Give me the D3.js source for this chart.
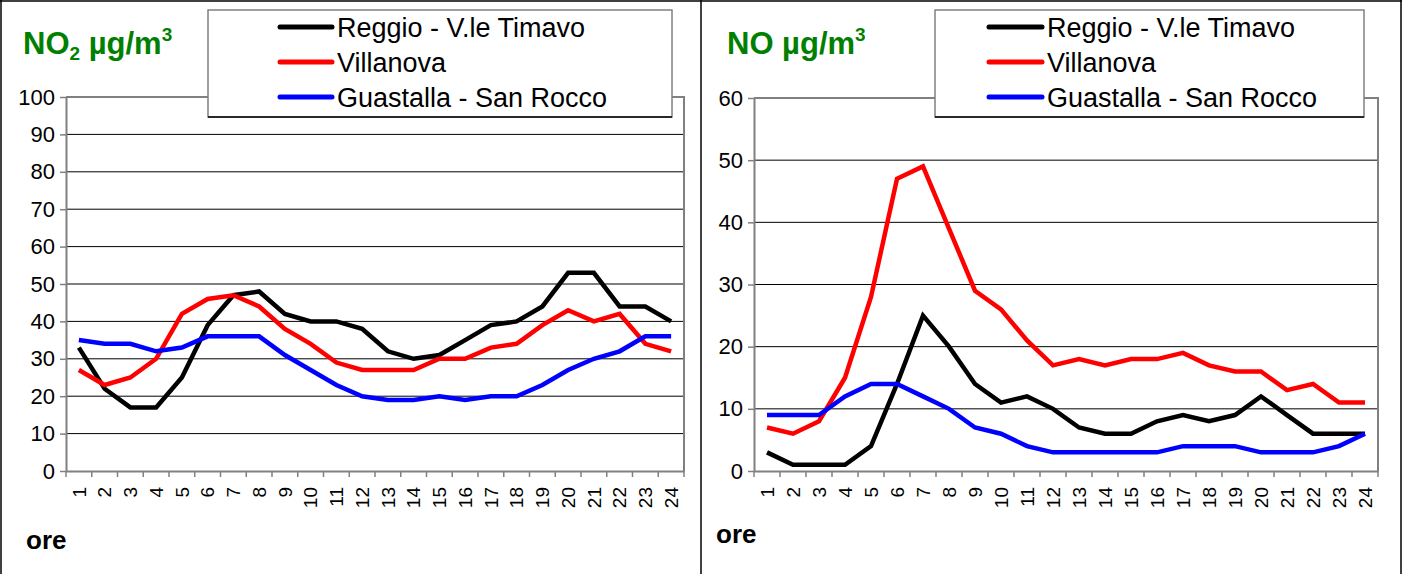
<!DOCTYPE html>
<html><head><meta charset="utf-8">
<script src="https://cdn.jsdelivr.net/npm/d3@7/dist/d3.min.js"></script>
<style>body{margin:0;background:#fff}svg{display:block;font-family:"Liberation Sans",Arial,sans-serif}</style>
</head><body><svg id="c" width="1413" height="574"></svg>
<script>
const hours = ["1","2","3","4","5","6","7","8","9","10","11","12","13","14","15","16","17","18","19","20","21","22","23","24"];
const seriesNames = ["Reggio - V.le Timavo","Villanova","Guastalla - San Rocco"];
const seriesColors = ["#000000","#ff0000","#0000ff"];
// NO2 (µg/m3)
const no2Reggio    = [33,22,17,17,25,39,47,48,42,40,40,38,32,30,31,35,39,40,44,53,53,44,44,40];
const no2Villanova = [27,23,25,30,42,46,47,44,38,34,29,27,27,27,30,30,33,34,39,43,40,42,34,32];
const no2Guastalla = [35,34,34,32,33,36,36,36,31,27,23,20,19,19,20,19,20,20,23,27,30,32,36,36];
const no2Ticks = [0,10,20,30,40,50,60,70,80,90,100];
// NO (µg/m3)
const noReggio    = [3,1,1,1,4,14,25,20,14,11,12,10,7,6,6,8,9,8,9,12,9,6,6,6];
const noVillanova = [7,6,8,15,28,47,49,39,29,26,21,17,18,17,18,18,19,17,16,16,13,14,11,11];
const noGuastalla = [9,9,9,12,14,14,12,10,7,6,4,3,3,3,3,3,4,4,4,3,3,3,4,6];
const noTicks = [0,10,20,30,40,50,60];

const svg = d3.select("#c");
const GRAY = "#808080";

// outer frames
svg.append("line").attr("x1",1).attr("x2",1).attr("y1",0).attr("y2",574).attr("stroke","#000").attr("stroke-width",1.5);
svg.append("line").attr("x1",701).attr("x2",701).attr("y1",0).attr("y2",574).attr("stroke","#000").attr("stroke-width",1.5);
svg.append("line").attr("x1",1401).attr("x2",1401).attr("y1",0).attr("y2",574).attr("stroke","#000").attr("stroke-width",1.5);
svg.append("line").attr("x1",0).attr("x2",1402).attr("y1",1).attr("y2",1).attr("stroke","#000").attr("stroke-width",1.5);

function panel(cfg){
  const g = svg.append("g");
  const x = d3.scaleBand().domain(hours).range([cfg.x0,cfg.x1]);
  const y = d3.scaleLinear().domain([0,cfg.ymax]).range([cfg.y1,cfg.y0]);
  // gridlines
  g.append("g").selectAll("line").data(cfg.ticks.filter(t=>t>0 && t<cfg.ymax)).join("line")
    .attr("x1",cfg.x0).attr("x2",cfg.x1).attr("y1",d=>y(d)).attr("y2",d=>y(d))
    .attr("stroke","#000").attr("stroke-width",1);
  // plot border (top/right)
  g.append("path").attr("d",`M${cfg.x0},${cfg.y0}H${cfg.x1}V${cfg.y1}`).attr("fill","none").attr("stroke",GRAY).attr("stroke-width",2);
  // y axis
  const ya = g.append("g").attr("transform",`translate(${cfg.x0},0)`)
    .call(d3.axisLeft(y).tickValues(cfg.ticks).tickSize(6).tickPadding(5).tickSizeOuter(0));
  ya.select(".domain").attr("stroke",GRAY).attr("stroke-width",2);
  ya.selectAll(".tick line").attr("stroke",GRAY).attr("stroke-width",1.5);
  ya.selectAll(".tick text").attr("font-size",22).attr("fill","#000").attr("font-family","Liberation Sans, Arial, sans-serif");
  // x axis
  const xa = g.append("g").attr("transform",`translate(0,${cfg.y1})`)
    .call(d3.axisBottom(x).tickSize(0).tickSizeOuter(0));
  xa.select(".domain").attr("stroke",GRAY).attr("stroke-width",2);
  xa.selectAll(".tick text").attr("font-size",19).attr("fill","#000")
    .attr("font-family","Liberation Sans, Arial, sans-serif")
    .attr("text-anchor","end").attr("dy","0.35em").attr("dx",0)
    .attr("transform","translate(0,16) rotate(-90)").attr("y",0).attr("x",0);
  // boundary ticks
  const bounds = hours.map(h=>x(h)).concat([x(hours[hours.length-1])+x.bandwidth()]);
  g.append("g").selectAll("line").data(bounds).join("line")
    .attr("x1",d=>d).attr("x2",d=>d).attr("y1",cfg.y1).attr("y2",cfg.y1+6)
    .attr("stroke",GRAY).attr("stroke-width",1.5);
  // series lines
  const line = d3.line().x((d,i)=>x(hours[i])+x.bandwidth()/2).y(d=>y(d));
  cfg.series.forEach((s,i)=>{
    g.append("path").datum(s).attr("d",line).attr("fill","none")
      .attr("stroke",seriesColors[i]).attr("stroke-width",4.5).attr("stroke-linejoin","miter");
  });
  // title
  const t = g.append("text").attr("x",cfg.tx).attr("y",cfg.ty).attr("fill","#008000")
    .attr("font-weight","bold").attr("font-size",31);
  t.append("tspan").text("NO");
  if(cfg.sub){ t.append("tspan").attr("font-size",19).attr("dy",6).text(cfg.sub); t.append("tspan").attr("dy",-6).text(" µg/m"); }
  else t.append("tspan").text(" µg/m");
  t.append("tspan").attr("font-size",19).attr("dy",-13).text("3");
  // ore
  g.append("text").attr("x",cfg.ox).attr("y",cfg.oy).attr("font-weight","bold").attr("font-size",26).attr("fill","#000").text("ore");
  // legend
  const L = cfg.legend;
  g.append("rect").attr("x",L.x).attr("y",L.y).attr("width",L.w).attr("height",L.h)
    .attr("fill","#fff").attr("stroke",GRAY).attr("stroke-width",1.5);
  g.append("line").attr("x1",L.x).attr("x2",L.x+L.w).attr("y1",L.y+L.h).attr("y2",L.y+L.h).attr("stroke","#000").attr("stroke-width",1.5);
  seriesNames.forEach((n,i)=>{
    const yy = L.y + 17 + i*35;
    g.append("line").attr("x1",L.lx0).attr("x2",L.lx1).attr("y1",yy).attr("y2",yy)
      .attr("stroke",seriesColors[i]).attr("stroke-width",5).attr("stroke-linecap","round");
    g.append("text").attr("x",L.lx1+5).attr("y",yy+10).attr("font-size",27).attr("fill","#000").text(n);
  });
}

panel({x0:66,x1:684,y0:97,y1:471,ymax:100,ticks:no2Ticks,series:[no2Reggio,no2Villanova,no2Guastalla],
  tx:23,ty:54,sub:"2",ox:26,oy:549,
  legend:{x:208,y:10,w:464,h:107,lx0:280,lx1:332}});
panel({x0:754,x1:1378,y0:98,y1:471,ymax:60,ticks:noTicks,series:[noReggio,noVillanova,noGuastalla],
  tx:727,ty:54,sub:null,ox:716,oy:543,
  legend:{x:935,y:10,w:429,h:107,lx0:989,lx1:1042}});
</script></body></html>
